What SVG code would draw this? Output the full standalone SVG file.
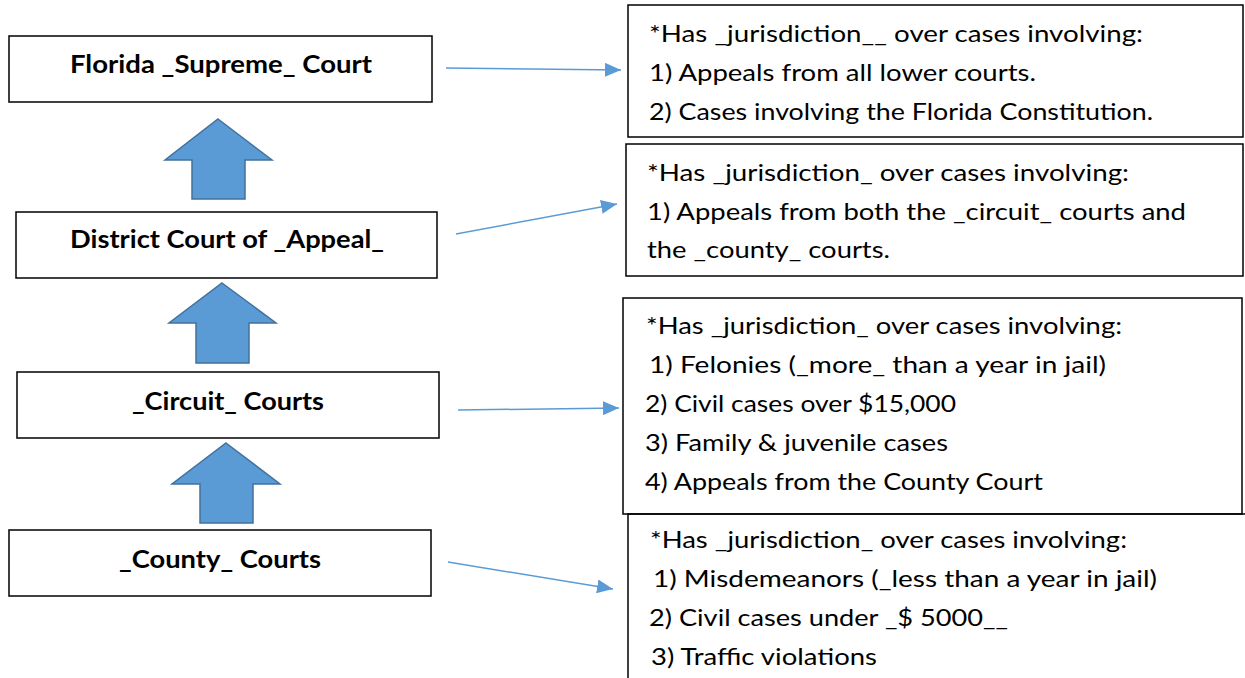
<svg xmlns="http://www.w3.org/2000/svg" width="1245" height="678" viewBox="0 0 1245 678">
<defs>
<style>
.box{fill:#fff;stroke:#000;stroke-width:1.5}
.up{fill:#5B9BD5;stroke:#41719C;stroke-width:1.5;stroke-linejoin:miter}
.conn{stroke:#5B9BD5;stroke-width:1.5;fill:none}
.lbl{font-family:Lato,"Liberation Sans",sans-serif;font-weight:bold;font-size:24px;fill:#000}
.txt{font-family:Lato,"Liberation Sans",sans-serif;font-size:24px;fill:#000}
</style>
<marker id="ah" markerUnits="userSpaceOnUse" markerWidth="16" markerHeight="14" refX="16" refY="7" orient="auto">
<path d="M0,0 L16,7 L0,14 z" fill="#5B9BD5"/>
</marker>
</defs>
<rect width="1245" height="678" fill="#fff"/>

<g id="supreme">
<rect class="box" x="9" y="36" width="423" height="66"/>
<text class="lbl" x="70" y="73" textLength="302" lengthAdjust="spacingAndGlyphs">Florida _Supreme_ Court</text>
</g>
<g id="district">
<rect class="box" x="16" y="212" width="421" height="66"/>
<text class="lbl" x="70" y="248" textLength="314" lengthAdjust="spacingAndGlyphs">District Court of _Appeal_</text>
</g>
<g id="circuit">
<rect class="box" x="17" y="372" width="422" height="66"/>
<text class="lbl" x="132" y="410" textLength="192" lengthAdjust="spacingAndGlyphs">_Circuit_ Courts</text>
</g>
<g id="county">
<rect class="box" x="9" y="530" width="422" height="66"/>
<text class="lbl" x="119" y="568" textLength="202" lengthAdjust="spacingAndGlyphs">_County_ Courts</text>
</g>

<g id="up-arrows">
<path class="up" d="M218,119 L272,160 L245,160 L245,199 L192,199 L192,160 L165,160 Z"/>
<path class="up" d="M222,283 L276,323 L249,323 L249,363 L196,363 L196,323 L169,323 Z"/>
<path class="up" d="M226,443 L280,484 L253,484 L253,523 L200,523 L200,484 L172,484 Z"/>
</g>

<g id="supreme-info">
<rect class="box" x="628" y="5" width="615" height="132"/>
<text class="txt" x="649" y="42" textLength="494" lengthAdjust="spacingAndGlyphs">*Has _jurisdiction__ over cases involving:</text>
<text class="txt" x="649" y="81" textLength="387" lengthAdjust="spacingAndGlyphs">1) Appeals from all lower courts.</text>
<text class="txt" x="649" y="120" textLength="504" lengthAdjust="spacingAndGlyphs">2) Cases involving the Florida Constitution.</text>
</g>
<g id="district-info">
<rect class="box" x="626" y="144" width="617" height="132"/>
<text class="txt" x="647" y="181" textLength="482" lengthAdjust="spacingAndGlyphs">*Has _jurisdiction_ over cases involving:</text>
<text class="txt" x="647" y="220" textLength="539" lengthAdjust="spacingAndGlyphs">1) Appeals from both the _circuit_ courts and</text>
<text class="txt" x="647" y="258" textLength="243" lengthAdjust="spacingAndGlyphs">the _county_ courts.</text>
</g>
<g id="circuit-info">
<rect class="box" x="623" y="298" width="619" height="216"/>
<text class="txt" x="646" y="334" textLength="476" lengthAdjust="spacingAndGlyphs">*Has _jurisdiction_ over cases involving:</text>
<text class="txt" x="649" y="373" textLength="457" lengthAdjust="spacingAndGlyphs">1) Felonies (_more_ than a year in jail)</text>
<text class="txt" x="645" y="412" textLength="311" lengthAdjust="spacingAndGlyphs">2) Civil cases over $15,000</text>
<text class="txt" x="645" y="451" textLength="303" lengthAdjust="spacingAndGlyphs">3) Family &amp; juvenile cases</text>
<text class="txt" x="645" y="490" textLength="398" lengthAdjust="spacingAndGlyphs">4) Appeals from the County Court</text>
</g>
<g id="county-info">
<path d="M628,680 V514 H1245" fill="none" stroke="#000" stroke-width="1.5"/>
<text class="txt" x="650" y="548" textLength="477" lengthAdjust="spacingAndGlyphs">*Has _jurisdiction_ over cases involving:</text>
<text class="txt" x="653" y="587" textLength="504" lengthAdjust="spacingAndGlyphs">1) Misdemeanors (_less than a year in jail)</text>
<text class="txt" x="649" y="626" textLength="359" lengthAdjust="spacingAndGlyphs">2) Civil cases under _$ 5000__</text>
<text class="txt" x="651" y="665" textLength="226" lengthAdjust="spacingAndGlyphs">3) Traffic violations</text>
</g>

<g id="connectors">
<line class="conn" x1="446" y1="68" x2="621" y2="70" marker-end="url(#ah)"/>
<line class="conn" x1="456" y1="234" x2="617" y2="204" marker-end="url(#ah)"/>
<line class="conn" x1="458" y1="410" x2="619" y2="408" marker-end="url(#ah)"/>
<line class="conn" x1="448" y1="562" x2="613" y2="589" marker-end="url(#ah)"/>
</g>
</svg>
